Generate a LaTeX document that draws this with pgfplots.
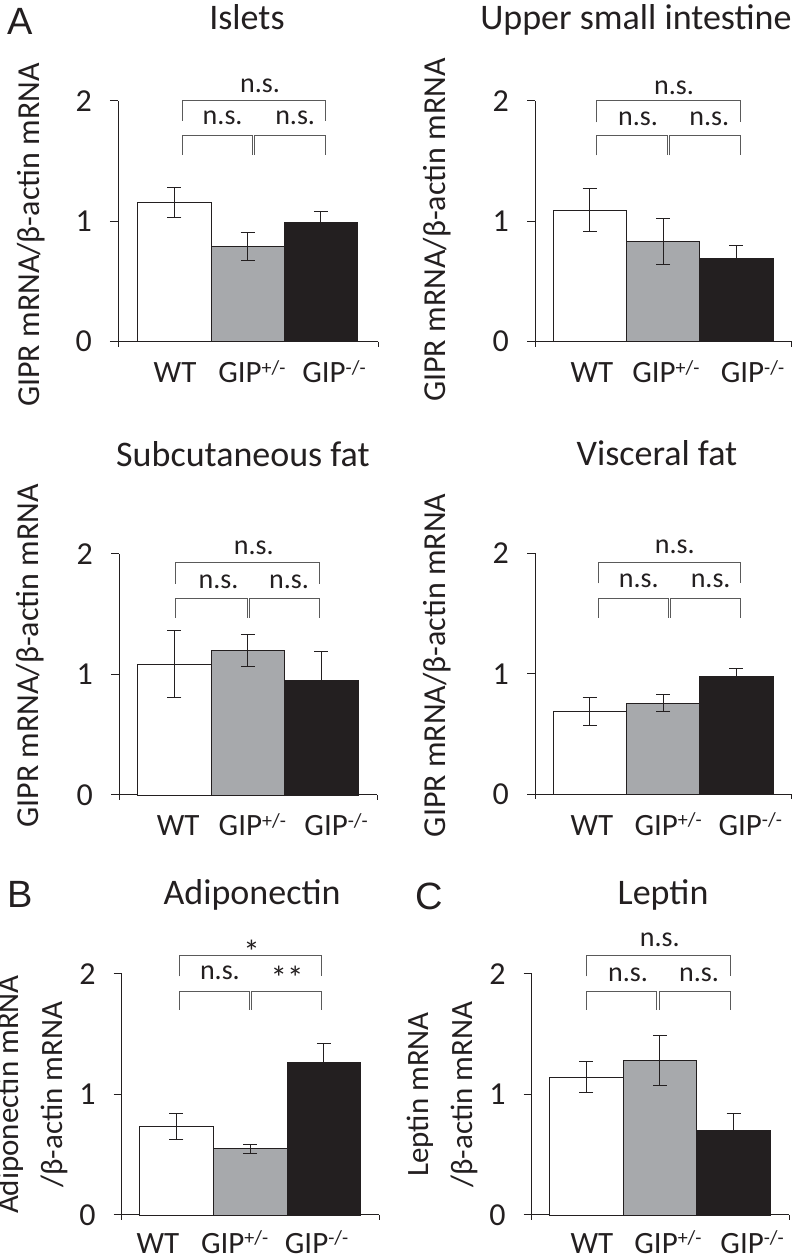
\documentclass[border=0pt]{standalone}
\usepackage{pgfplots}
\pgfplotsset{compat=1.18}
\usepackage{fontspec}
\setmainfont{Carlito}
\newfontfamily\arialfont{Liberation Sans}
\definecolor{barblack}{HTML}{231F20}
\definecolor{bargray}{HTML}{A7A9AC}
\definecolor{axisc}{HTML}{231F20}
\definecolor{brc}{HTML}{5A5A5A}
\newcommand{\fs}[1]{\fontsize{#1}{#1}\selectfont}
\newcommand{\sps}[1]{\raisebox{8.5pt}{\fontsize{20}{20}\selectfont #1}}

\pgfplotsset{
  every axis title/.style={font=\fs{36}, text=axisc, anchor=base, inner sep=0pt},
  panel/.style={
    scale only axis, height=241pt,
    ymin=0, ymax=2, ytick={0,1,2},
    axis lines*=left, clip=false,
    axis line style={axisc, line width=1pt},
    tick align=outside, major tick length=8pt,
    y tick style={axisc, line width=1pt},
    xticklabels={WT, GIP\sps{+/-}, GIP\sps{-/-}},
    x tick style={draw=none},
    /pgf/number format/assume math mode=true,
    tick label style={font=\fs{31}, text=axisc},
    yticklabel style={font=\fs{32}, anchor=east, inner sep=0pt, xshift=-18pt},
    xticklabel style={anchor=base, inner sep=0pt, yshift=-33pt},
    label style={font=\fontsize{32}{44}\selectfont, text=axisc, inner sep=0pt},
  },
  wbar/.style={ybar, bar width=1, bar shift=0pt, fill=white, draw=axisc, line width=0.8pt,
    /pgfplots/error bars/y dir=both, /pgfplots/error bars/y explicit,
    /pgfplots/error bars/error bar style={line width=1pt, color=axisc},
    /pgfplots/error bars/error mark options={line width=1pt, color=axisc, mark size=7pt, rotate=90}},
  gbar/.style={wbar, fill=bargray},
  kbar/.style={wbar, fill=barblack},
}

% brackets: left, midL, midR, right, upper top, upper leg, lower top, lower leg
\newcommand{\sig}[8]{%
  \draw[brc, line width=1pt] (axis cs:#1,#6) |- (axis cs:#4,#5) -- (axis cs:#4,#6);
  \draw[brc, line width=1pt] (axis cs:#1,#8) |- (axis cs:#2,#7) -- (axis cs:#2,#8);
  \draw[brc, line width=1pt] (axis cs:#3,#8) |- (axis cs:#4,#7) -- (axis cs:#4,#8);
  \draw[axisc, line width=1pt] (rel axis cs:0,0) -- ([yshift=-5pt]rel axis cs:0,0);
  \draw[axisc, line width=1pt] (rel axis cs:1,0) -- ([yshift=-5pt]rel axis cs:1,0);
}
\newcommand{\txt}[3]{\node[font=\fs{28}, text=axisc, inner sep=0pt, anchor=center] at (axis cs:#1,#2) {#3};}
\newcommand{\astx}[3]{\node[font=\fs{33}, text=axisc, inner sep=0pt, anchor=north] at (axis cs:#1,#2) {#3};}

\begin{document}
\begin{tikzpicture}[x=1pt,y=1pt]
\useasboundingbox (0,0) rectangle (793,1257);

% ---------- Panel 1: Islets ----------
\begin{axis}[panel, at={(118pt,915.3pt)}, anchor=south west, width=260pt, xmin=0.232, xmax=3.78,
  xtick={1.01,2.06,3.18},
  title={Islets}, title style={at={(axis description cs:0.496,1.295)}},
  ylabel={GIPR mRNA/β-actin mRNA}, ylabel style={at={(axis description cs:-0.281,0.442)}, anchor=south}]
\addplot[wbar] coordinates {(1,1.155) +- (0,0.127)};
\addplot[gbar] coordinates {(2,0.787) +- (0,0.115)};
\addplot[kbar] coordinates {(3,0.986) +- (0,0.091)};
\sig{1.115}{2.064}{2.10}{3.064}{2.0}{1.835}{1.712}{1.553}
\txt{2.17}{2.12}{n.s.}
\txt{1.66}{1.86}{n.s.}
\txt{2.65}{1.86}{n.s.}
\end{axis}

% ---------- Panel 2: Upper small intestine ----------
\begin{axis}[panel, at={(535pt,915.3pt)}, anchor=south west, width=256.7pt, xmin=0.254, xmax=3.755,
  xtick={1.03,2.04,3.22},
  title={Upper small intestine}, title style={at={(axis description cs:0.393,1.295)}},
  ylabel={GIPR mRNA/β-actin mRNA}, ylabel style={at={(axis description cs:-0.327,0.463)}, anchor=south}]
\addplot[wbar] coordinates {(1,1.091) +- (0,0.177)};
\addplot[gbar] coordinates {(2,0.832) +- (0,0.188)};
\addplot[kbar] coordinates {(3,0.691) +- (0,0.108)};
\sig{1.095}{2.064}{2.086}{3.05}{2.0}{1.82}{1.707}{1.547}
\txt{2.15}{2.11}{n.s.}
\txt{1.66}{1.85}{n.s.}
\txt{2.63}{1.85}{n.s.}
\end{axis}

% ---------- Panel 3: Subcutaneous fat ----------
\begin{axis}[panel, at={(119pt,462pt)}, anchor=south west, width=258.3pt, xmin=0.246, xmax=3.76,
  xtick={1.05,2.06,3.2},
  title={Subcutaneous fat}, title style={at={(axis description cs:0.48,1.363)}},
  ylabel={GIPR mRNA/β-actin mRNA}, ylabel style={at={(axis description cs:-0.29,0.577)}, anchor=south}]
\addplot[wbar] coordinates {(1,1.086) +- (0,0.28)};
\addplot[gbar] coordinates {(2,1.197) +- (0,0.133)};
\addplot[kbar] coordinates {(3,0.948) +- (0,0.243)};
\sig{1.02}{1.99}{2.02}{2.97}{1.926}{1.751}{1.629}{1.469}
\txt{2.08}{2.05}{n.s.}
\txt{1.60}{1.765}{n.s.}
\txt{2.56}{1.765}{n.s.}
\end{axis}

% ---------- Panel 4: Visceral fat ----------
\begin{axis}[panel, at={(535pt,462.7pt)}, anchor=south west, width=256.7pt, xmin=0.254, xmax=3.755,
  xtick={1.03,2.07,3.19},
  title={Visceral fat}, title style={at={(axis description cs:0.475,1.364)}},
  ylabel={GIPR mRNA/β-actin mRNA}, ylabel style={at={(axis description cs:-0.327,0.535)}, anchor=south}]
\addplot[wbar] coordinates {(1,0.688) +- (0,0.115)};
\addplot[gbar] coordinates {(2,0.758) +- (0,0.07)};
\addplot[kbar] coordinates {(3,0.98) +- (0,0.062)};
\sig{1.117}{2.07}{2.10}{3.06}{1.925}{1.75}{1.627}{1.467}
\txt{2.16}{2.05}{n.s.}
\txt{1.67}{1.77}{n.s.}
\txt{2.65}{1.77}{n.s.}
\end{axis}

% ---------- Panel 5: Adiponectin ----------
\begin{axis}[panel, at={(121.7pt,42pt)}, anchor=south west, width=257.6pt, xmin=0.259, xmax=3.75,
  xtick={0.75,1.79,2.9}, xticklabel style={yshift=3pt},
  title={Adiponectin}, title style={at={(axis description cs:0.506,1.288)}},
  ylabel={Adiponectin mRNA\\/β-actin mRNA}, ylabel style={at={(axis description cs:-0.208,0.5)}, anchor=south, align=center, font=\fontsize{31}{44}\selectfont}]
\addplot[wbar] coordinates {(1,0.734) +- (0,0.108)};
\addplot[gbar] coordinates {(2,0.549) +- (0,0.037)};
\addplot[kbar] coordinates {(3,1.266) +- (0,0.161)};
\sig{1.04}{1.99}{2.02}{2.97}{2.155}{1.98}{1.856}{1.704}
\astx{2.02}{2.285}{*}
\txt{1.59}{2.01}{n.s.}
\astx{2.50}{2.07}{**}
\end{axis}

% ---------- Panel 6: Leptin ----------
\begin{axis}[panel, at={(531.7pt,42pt)}, anchor=south west, width=257.6pt, xmin=0.264, xmax=3.753,
  xtick={1.08,2.11,3.25}, xticklabel style={yshift=3pt},
  title={Leptin}, title style={at={(axis description cs:0.51,1.288)}},
  ylabel={Leptin mRNA\\/β-actin mRNA}, ylabel style={at={(axis description cs:-0.208,0.5)}, anchor=south, align=center, font=\fontsize{31}{44}\selectfont}]
\addplot[wbar] coordinates {(1,1.145) +- (0,0.131)};
\addplot[gbar] coordinates {(2,1.28) +- (0,0.209)};
\addplot[kbar] coordinates {(3,0.698) +- (0,0.142)};
\sig{1.0}{1.955}{1.99}{2.95}{2.153}{1.98}{1.856}{1.704}
\txt{2.0}{2.286}{n.s.}
\txt{1.57}{1.995}{n.s.}
\txt{2.53}{1.995}{n.s.}
\end{axis}

% panel letters
\node[anchor=base west, inner sep=0pt, font=\arialfont\fs{38}, text=axisc] at (7,1222) {A};
\node[anchor=base west, inner sep=0pt, font=\arialfont\fs{38}, text=axisc] at (7,349) {B};
\node[anchor=base west, inner sep=0pt, font=\arialfont\fs{38}, text=axisc] at (415,347) {C};
\end{tikzpicture}
\end{document}
